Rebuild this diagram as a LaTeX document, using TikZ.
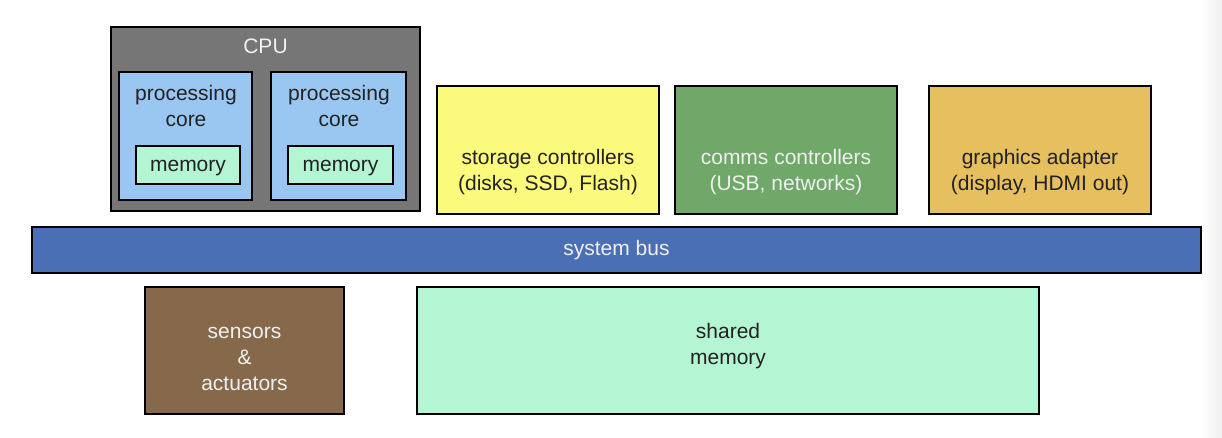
\documentclass[tikz,border=0pt]{standalone}
\usepackage{fontspec}
\setmainfont{Liberation Sans}
\definecolor{cpugray}{HTML}{767676}
\definecolor{coreblue}{HTML}{9AC7F2}
\definecolor{mint}{HTML}{B4F5D4}
\definecolor{storyellow}{HTML}{FCFA7C}
\definecolor{commsgreen}{HTML}{6FA868}
\definecolor{gfxgold}{HTML}{E6BF5F}
\definecolor{busblue}{HTML}{4A6FB5}
\definecolor{sensbrown}{HTML}{86694A}
\definecolor{darktext}{HTML}{222222}
\definecolor{lighttext}{HTML}{F0F0F0}
\begin{document}
\begin{tikzpicture}[x=1pt,y=-1pt,
  box/.style={draw=black, line width=2.4pt, rectangle, inner sep=0pt, outer sep=0pt},
  txt/.style={font=\fontsize{21}{26}\selectfont, align=center, inner sep=0pt, text=darktext},
  ltxt/.style={txt, text=lighttext}]
\useasboundingbox (0,0) rectangle (1222,438);
\fill[white] (0,0) rectangle (1222,438);
\shade[left color=white, right color=black!6] (1200,0) rectangle (1222,438);
% CPU
\node[box, fill=cpugray, minimum width=309pt, minimum height=184pt] (cpu) at (265.5,119) {};
\node[ltxt] (cputxt) at (265.5,46) {CPU};
\node[box, fill=coreblue, minimum width=133pt, minimum height=128pt] (core1) at (185.5,136) {};
\node[txt] (core1txt) at (186,106) {processing\\core};
\node[box, fill=mint, minimum width=104pt, minimum height=38pt] (mem1) at (188,165) {};
\node[txt] (mem1txt) at (188,168.5) {memory};
\node[box, fill=coreblue, minimum width=135pt, minimum height=128pt] (core2) at (338.5,136) {};
\node[txt] (core2txt) at (339,106) {processing\\core};
\node[box, fill=mint, minimum width=105pt, minimum height=38pt] (mem2) at (340.5,165) {};
\node[txt] (mem2txt) at (340.5,168.5) {memory};
% controllers
\node[box, fill=storyellow, minimum width=222pt, minimum height=128pt] (stor) at (548,150) {};
\node[txt] (stortxt) at (548,172) {storage controllers\\(disks, SSD, Flash)};
\node[box, fill=commsgreen, minimum width=222pt, minimum height=128pt] (comms) at (786,150) {};
\node[ltxt] (commstxt) at (786,172) {comms controllers\\(USB, networks)};
\node[box, fill=gfxgold, minimum width=222pt, minimum height=128pt] (gfx) at (1040,150) {};
\node[txt] (gfxtxt) at (1040,172) {graphics adapter\\(display, HDMI out)};
% bus
\node[box, fill=busblue, minimum width=1169pt, minimum height=46pt] (bus) at (616.5,250) {};
\node[ltxt] (bustxt) at (616.5,250) {system bus};
% bottom
\node[box, fill=sensbrown, minimum width=199pt, minimum height=127pt] (sens) at (244.5,350.5) {};
\node[ltxt] (senstxt) at (244.5,359) {sensors\\\&\\actuators};
\node[box, fill=mint, minimum width=622pt, minimum height=127pt] (shm) at (728,350.5) {};
\node[txt] (shmtxt) at (728,346) {shared\\memory};
\end{tikzpicture}
\end{document}
